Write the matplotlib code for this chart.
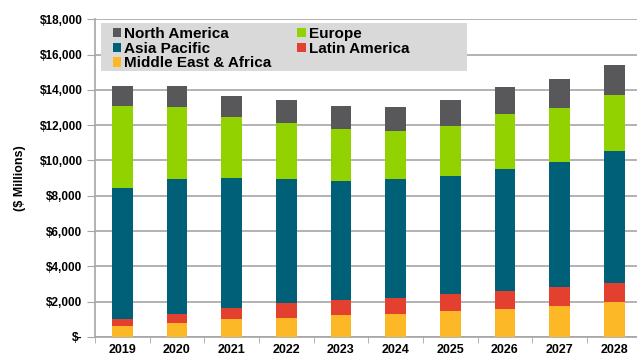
import matplotlib
matplotlib.use("Agg")
import matplotlib.pyplot as plt
from matplotlib.ticker import FuncFormatter, MultipleLocator, FixedLocator
from matplotlib.patches import Rectangle
import numpy as np

# Verileri hazırla ($ Millions)
years = ["2019", "2020", "2021", "2022", "2023", "2024", "2025", "2026", "2027", "2028"]
middle_east_africa = [650, 810, 1000, 1080, 1250, 1300, 1450, 1590, 1760, 2000]
latin_america = [370, 470, 620, 830, 850, 910, 970, 1000, 1070, 1060]
asia_pacific = [7440, 7690, 7410, 7060, 6740, 6760, 6720, 6950, 7080, 7480]
europe = [4630, 4080, 3420, 3170, 2930, 2700, 2820, 3080, 3080, 3170]
north_america = [1150, 1150, 1190, 1270, 1300, 1360, 1455, 1530, 1625, 1700]

plt.rcParams['font.family'] = ['Liberation Sans', 'DejaVu Sans']
plt.rcParams['font.weight'] = 'bold'

fig = plt.figure(figsize=(6.37, 3.56), dpi=100)
ax = fig.add_axes([0.149, 0.0534, 0.851, 0.8924])

x = np.arange(len(years))
w = 0.38
series = [
    ("Middle East & Africa", middle_east_africa, "#FDB827"),
    ("Latin America", latin_america, "#E4402F"),
    ("Asia Pacific", asia_pacific, "#006078"),
    ("Europe", europe, "#92D200"),
    ("North America", north_america, "#58585A"),
]
bottom = np.zeros(len(years))
bars = {}
for name, vals, col in series:
    bars[name] = ax.bar(x, vals, w, bottom=bottom, color=col, label=name, zorder=3)
    bottom += np.array(vals)

ax.set_ylim(0, 18000)
ax.set_xlim(-0.5, 9.416)
ax.yaxis.set_major_locator(MultipleLocator(2000))
ax.yaxis.set_major_formatter(FuncFormatter(lambda v, p: "$-" if v == 0 else "${:,.0f}".format(v)))
ax.grid(axis='y', color='#A6A6A6', linewidth=1.2, zorder=0)
ax.set_axisbelow(True)

ax.set_xticks(x)
ax.set_xticklabels(years)
ax.xaxis.set_minor_locator(FixedLocator(np.arange(-0.5, 10, 1)))
ax.tick_params(axis='x', which='major', length=0, labelsize=9, pad=5)
ax.tick_params(axis='x', which='minor', length=4, color='#A6A6A6', direction='out')
ax.tick_params(axis='y', length=6, color='#A6A6A6', labelsize=8.5, pad=3)

for s in ['top', 'right']:
    ax.spines[s].set_visible(False)
for s in ['left', 'bottom']:
    ax.spines[s].set_color('#A6A6A6')
    ax.spines[s].set_linewidth(1.2)

ax.set_ylabel("($ Millions)", fontsize=9, fontweight='bold', labelpad=10)

# Lejant arka planı (gri kutu)
ax.add_patch(Rectangle((0.0105, 0.838), 0.6755, 0.151, transform=ax.transAxes,
                       facecolor='#D9D9D9', edgecolor='none', zorder=4))

order = ["North America", "Asia Pacific", "Middle East & Africa", "Europe", "Latin America"]
leg = ax.legend([bars[n] for n in order], order, ncol=2, loc='upper left',
                bbox_to_anchor=(0.033, 0.976), fontsize=11, frameon=False,
                handlelength=0.55, handleheight=0.55, handletextpad=0.2,
                columnspacing=1.7, labelspacing=0.05, borderpad=0.0, borderaxespad=0.0)
leg.set_zorder(5)

fig.savefig("out.png", dpi=100)
